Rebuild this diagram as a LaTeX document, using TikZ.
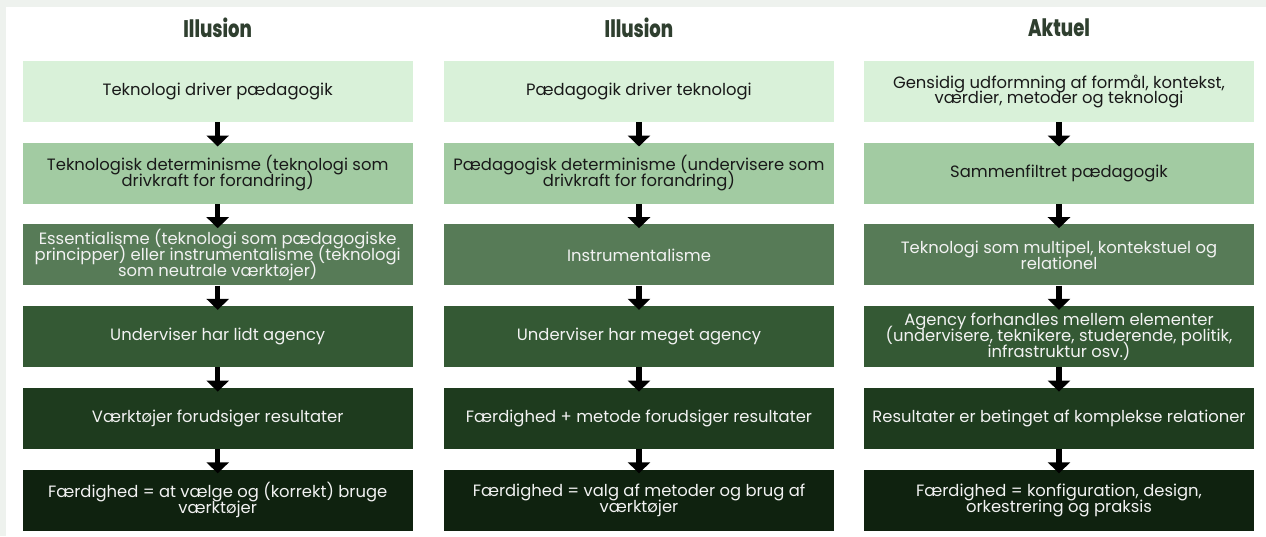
\documentclass[tikz,border=0pt]{standalone}
\usepackage{fontspec}
\setmainfont{Poppins}
\newfontfamily\headfont{Poppins ExtraBold}
\usetikzlibrary{arrows.meta, positioning}

\definecolor{greenA}{HTML}{D9F1D9}
\definecolor{greenB}{HTML}{A2CBA2}
\definecolor{greenC}{HTML}{577B57}
\definecolor{greenD}{HTML}{345934}
\definecolor{greenE}{HTML}{1E3B1E}
\definecolor{greenF}{HTML}{0F220F}
\definecolor{headgreen}{HTML}{2F3F2F}
\definecolor{slidebg}{HTML}{EEF2EE}

% box text with tight line spacing
\newcommand\boxfont{\fontsize{16.4}{15.9}\selectfont\lineskiplimit=-20pt\relax}

\begin{document}
\begin{tikzpicture}[
	x=1pt, y=-1pt,
	box/.style={fill=#1, text=black!90, minimum width=390pt, minimum height=61pt, inner sep=0pt, align=center, font=\boxfont},
	darkbox/.style={box=#1, text=white!90!gray},
	heading/.style={font=\fontsize{24}{24}\headfont, text=headgreen},
	flow/.style={-{Triangle[width=22pt,length=11pt]}, line width=5.5pt, shorten >=-4pt},
	node distance=20.3pt
]

% slide background
\fill[slidebg] (0,0) rectangle (1266,536);
\fill[white] (6,7) rectangle (1266,536);

% headings
\node[heading] (h1) at (217.7, 27.5) {\scalebox{0.75}[1]{Illusion}};
\node[heading] (h2) at (639, 27.5) {\scalebox{0.75}[1]{Illusion}};
\node[heading] (h3) at (1059, 27.5) {\scalebox{0.75}[1]{Aktuel}};

% first column
\node[box=greenA] (t1) at (217.7, 91.5) {Teknologi driver pædagogik};
\node[box=greenB, below=of t1] (t2) {Teknologisk determinisme (teknologi som\\drivkraft for forandring)};
\node[darkbox=greenC, below=of t2] (t3) {Essentialisme (teknologi som pædagogiske\\principper) eller instrumentalisme (teknologi\\som neutrale værktøjer)};
\node[darkbox=greenD, below=of t3] (t4) {Underviser har lidt agency};
\node[darkbox=greenE, below=of t4] (t5) {Værktøjer forudsiger resultater};
\node[darkbox=greenF, below=of t5] (t6) {Færdighed = at vælge og (korrekt) bruge\\værktøjer};

% second column
\node[box=greenA] (p1) at (639, 91.5) {Pædagogik driver teknologi};
\node[box=greenB, below=of p1] (p2) {Pædagogisk determinisme (undervisere som\\drivkraft for forandring)};
\node[darkbox=greenC, below=of p2] (p3) {Instrumentalisme};
\node[darkbox=greenD, below=of p3] (p4) {Underviser har meget agency};
\node[darkbox=greenE, below=of p4] (p5) {Færdighed + metode forudsiger resultater};
\node[darkbox=greenF, below=of p5] (p6) {Færdighed = valg af metoder og brug af\\værktøjer};

% third column
\node[box=greenA] (a1) at (1059, 91.5) {Gensidig udformning af formål, kontekst,\\værdier, metoder og teknologi};
\node[box=greenB, below=of a1] (a2) {Sammenfiltret pædagogik};
\node[darkbox=greenC, below=of a2] (a3) {Teknologi som multipel, kontekstuel og\\relationel};
\node[darkbox=greenD, below=of a3] (a4) {Agency forhandles mellem elementer\\(undervisere, teknikere, studerende, politik,\\infrastruktur osv.)};
\node[darkbox=greenE, below=of a4] (a5) {Resultater er betinget af komplekse relationer};
\node[darkbox=greenF, below=of a5] (a6) {Færdighed = konfiguration, design,\\orkestrering og praksis};

% arrows down each column
\foreach \c in {t,p,a} {
	\foreach \i [evaluate=\i as \j using int(\i+1)] in {1,...,5} {
		\draw[flow] (\c\i) -- (\c\j);
	}
}

\end{tikzpicture}
\end{document}
